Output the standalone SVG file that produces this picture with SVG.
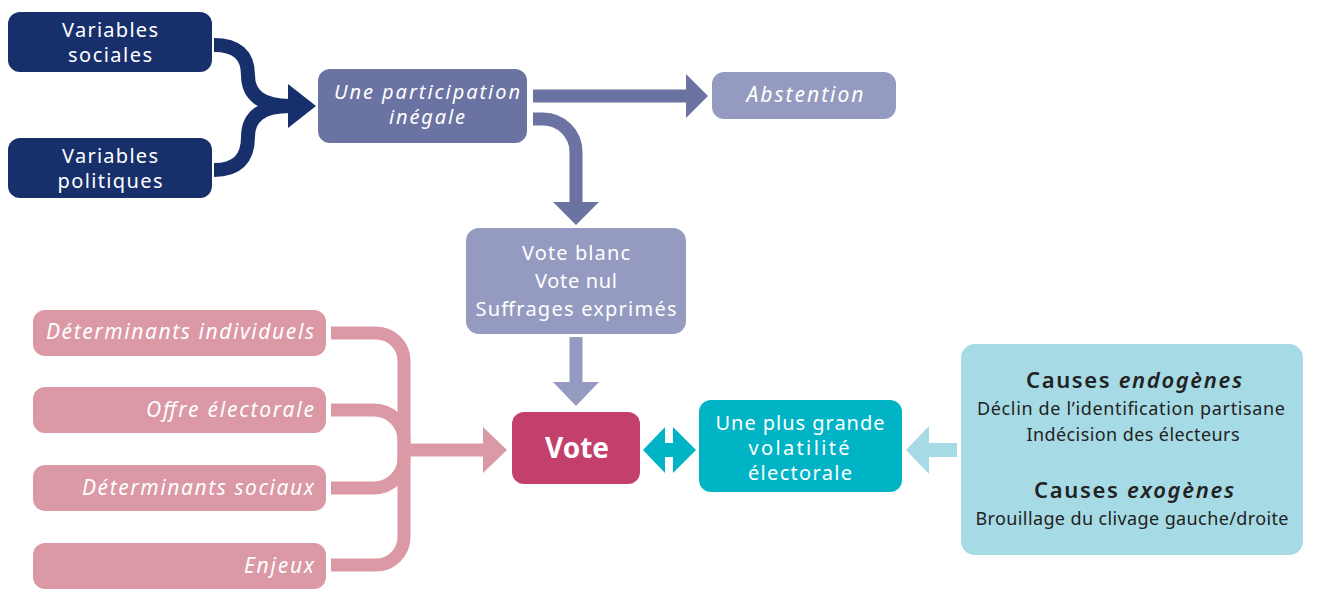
<svg xmlns="http://www.w3.org/2000/svg" width="1317" height="613" viewBox="0 0 1317 613">
<style>
text{font-family:"Noto Sans","Open Sans","Liberation Sans",sans-serif;}
.w{fill:#fff;}
.c{text-anchor:middle;}
.r{text-anchor:end;}
.i{font-style:italic;}
.navy{fill:#17306c;}
.pink{fill:#db99a5;}
.dark{fill:#6b73a2;}
.lav{fill:#959bc0;}
.teal{fill:#00b4c5;}
.lteal{fill:#a6dbe5;}
.t{fill:#222;}
</style>
<rect width="1317" height="613" fill="#fff"/>
<g id="connectors" fill="none">
  <g stroke="#17306c" stroke-width="14">
    <path d="M214,45 Q248,45 248,75 Q248,106 290,106"/>
    <path d="M214,170 Q248,170 248,137 Q248,106 290,106"/>
  </g>
  <polygon class="navy" points="288,84 316,106 288,128"/>
  <g stroke="#6b73a2" stroke-width="13">
    <path d="M533,96 H688"/>
    <path d="M533,119 H543 A33,33 0 0 1 576,152 V205"/>
  </g>
  <polygon class="dark" points="686,74 708,96 686,118"/>
  <polygon class="dark" points="553,202 576,225 599,202"/>
  <path d="M576,337 V384" stroke="#959bc0" stroke-width="13"/>
  <polygon class="lav" points="553,382 576,406 599,382"/>
  <g stroke="#db99a5" stroke-width="13">
    <path d="M331,333 H376 A28,28 0 0 1 404,361 V450"/>
    <path d="M331,410 H374 A30,30 0 0 1 404,440 V450"/>
    <path d="M331,488 H374 A30,30 0 0 0 404,458 V450"/>
    <path d="M331,565 H376 A28,28 0 0 0 404,537 V450"/>
    <path d="M404,450 H486"/>
  </g>
  <polygon class="pink" points="483,427 507,450 483,473"/>
  <polygon class="teal" points="643,450 665,427 665,443 673,443 673,427 696,450 673,473 673,457 665,457 665,473"/>
  <path d="M667,427 V443 M667,457 V473" stroke="#fff" stroke-width="4"/>
  <path d="M926,450 H957" stroke="#a6dbe5" stroke-width="14"/>
  <polygon class="lteal" points="929,426 906,450 929,474"/>
</g>
<g id="variables-sociales">
  <rect class="navy" x="8" y="12" width="204" height="60" rx="12"/>
  <text class="w c" x="110" y="37" font-size="20" textLength="96" lengthAdjust="spacing">Variables</text>
  <text class="w c" x="110" y="62" font-size="20" textLength="84" lengthAdjust="spacing">sociales</text>
</g>
<g id="variables-politiques">
  <rect class="navy" x="8" y="138" width="204" height="60" rx="12"/>
  <text class="w c" x="110" y="163" font-size="20" textLength="96" lengthAdjust="spacing">Variables</text>
  <text class="w c" x="110" y="188" font-size="20" textLength="105" lengthAdjust="spacing">politiques</text>
</g>
<g id="participation">
  <rect class="dark" x="318" y="69" width="209" height="74" rx="12"/>
  <text class="w c i" x="427" y="99" font-size="20" textLength="186" lengthAdjust="spacing">Une participation</text>
  <text class="w c i" x="427" y="124" font-size="20" textLength="76" lengthAdjust="spacing">inégale</text>
</g>
<g id="abstention">
  <rect class="lav" x="712" y="72" width="184" height="47" rx="12"/>
  <text class="w c i" x="805" y="102" font-size="21" textLength="117" lengthAdjust="spacing">Abstention</text>
</g>
<g id="vote-blanc">
  <rect class="lav" x="466" y="228" width="220" height="106" rx="13"/>
  <text class="w c" x="576" y="260" font-size="20" textLength="108" lengthAdjust="spacing">Vote blanc</text>
  <text class="w c" x="576" y="288" font-size="20" textLength="82" lengthAdjust="spacing">Vote nul</text>
  <text class="w c" x="576" y="316" font-size="20" textLength="201" lengthAdjust="spacing">Suffrages exprimés</text>
</g>
<g id="det-individuels">
  <rect class="pink" x="33" y="310" width="293" height="46" rx="12"/>
  <text class="w r i" x="314" y="339" font-size="21" textLength="268" lengthAdjust="spacing">Déterminants individuels</text>
</g>
<g id="offre">
  <rect class="pink" x="33" y="387" width="293" height="46" rx="12"/>
  <text class="w r i" x="314" y="417" font-size="21" textLength="168" lengthAdjust="spacing">Offre électorale</text>
</g>
<g id="det-sociaux">
  <rect class="pink" x="33" y="465" width="293" height="46" rx="12"/>
  <text class="w r i" x="314" y="495" font-size="21" textLength="232" lengthAdjust="spacing">Déterminants sociaux</text>
</g>
<g id="enjeux">
  <rect class="pink" x="33" y="543" width="293" height="46" rx="12"/>
  <text class="w r i" x="314" y="573" font-size="21" textLength="70" lengthAdjust="spacing">Enjeux</text>
</g>
<g id="vote">
  <rect x="512" y="412" width="128" height="72" rx="12" fill="#c2406b"/>
  <text class="w c" x="577" y="458" font-size="28" font-weight="bold" textLength="64" lengthAdjust="spacing">Vote</text>
</g>
<g id="volatilite">
  <rect class="teal" x="699" y="400" width="203" height="92" rx="12"/>
  <text class="w c" x="800" y="430" font-size="20" textLength="169" lengthAdjust="spacing">Une plus grande</text>
  <text class="w c" x="799" y="455" font-size="20" textLength="101" lengthAdjust="spacing">volatilité</text>
  <text class="w c" x="800" y="480" font-size="20" textLength="104" lengthAdjust="spacing">électorale</text>
</g>
<g id="causes">
  <rect class="lteal" x="961" y="344" width="342" height="211" rx="14"/>
  <text class="t c" x="1134" y="388" font-size="22" font-weight="600" textLength="216" lengthAdjust="spacing">Causes <tspan font-style="italic">endogènes</tspan></text>
  <text class="t c" x="1131" y="415" font-size="18" textLength="308" lengthAdjust="spacing">Déclin de l’identification partisane</text>
  <text class="t c" x="1133" y="441" font-size="18" textLength="213" lengthAdjust="spacing">Indécision des électeurs</text>
  <text class="t c" x="1134" y="498" font-size="22" font-weight="600" textLength="200" lengthAdjust="spacing">Causes <tspan font-style="italic">exogènes</tspan></text>
  <text class="t c" x="1132" y="525" font-size="18" textLength="313" lengthAdjust="spacing">Brouillage du clivage gauche/droite</text>
</g>
</svg>
